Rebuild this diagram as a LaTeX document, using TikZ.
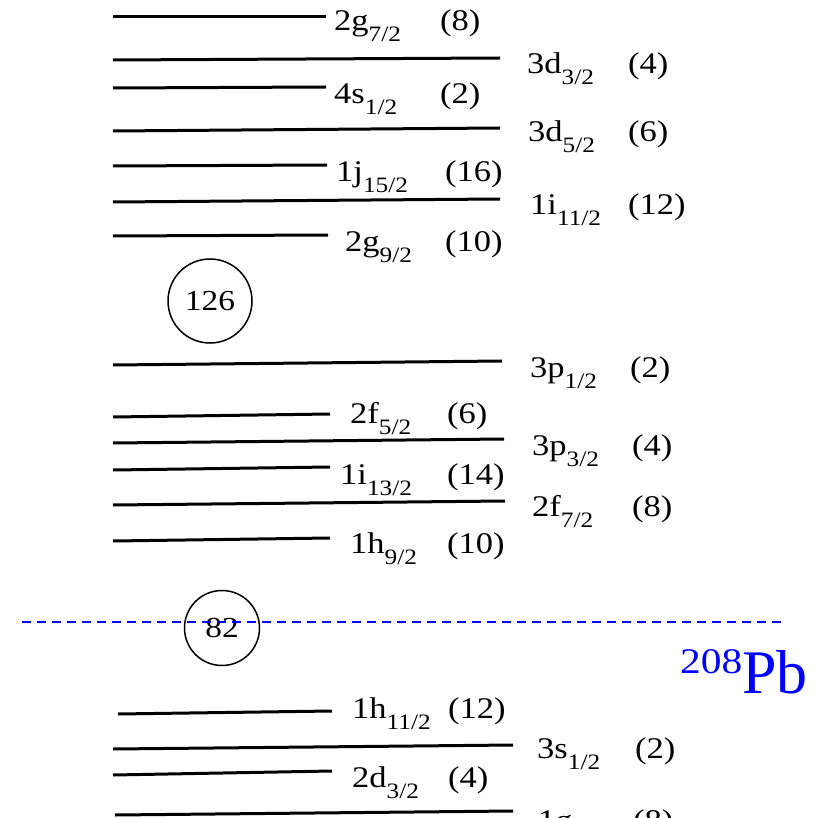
\documentclass[tikz,border=0pt]{standalone}
\usepackage{fontspec}
\setmainfont{Liberation Serif}
\newfontfamily\lvlfont{Liberation Serif}[FakeStretch=1.15]
\usetikzlibrary{positioning}
\newcommand{\lsub}[1]{\raisebox{-11pt}{\fontsize{22}{22}\selectfont #1}}

\begin{document}
\begin{tikzpicture}[
        x=1pt, y=-1pt,
        level/.style={line width=3pt},
        orb/.style={anchor=base west, inner sep=0pt, font=\lvlfont\fontsize{30}{32}\selectfont},
        magic/.style={draw, circle, line width=1.5pt, inner sep=0pt, font=\lvlfont\fontsize{29}{32}\selectfont},
        gap/.style={draw=blue, line width=1.6pt, dash pattern=on 9pt off 6pt}
    ]
        \useasboundingbox (0,0) rectangle (819,818);
        \clip (0,0) rectangle (819,818);

        % Levels above N=126
        \draw [level] (113,17) -- (326,17);
        \node (g72) [orb] at (334,31) {2g\lsub{7/2}};
        \node (g72n) [orb] at (440,31) {(8)};
        \draw [level] (113,60) -- (500,58);
        \node (d32) [orb] at (527,74) {3d\lsub{3/2}};
        \node (d32n) [orb] at (628,74) {(4)};
        \draw [level] (113,88) -- (326,87);
        \node (s12) [orb] at (334,104) {4s\lsub{1/2}};
        \node (s12n) [orb] at (440,104) {(2)};
        \draw [level] (113,131) -- (500,128);
        \node (d52) [orb] at (528,142) {3d\lsub{5/2}};
        \node (d52n) [orb] at (628,142) {(6)};
        \draw [level] (113,166) -- (327,165);
        \node (j152) [orb] at (336,182) {1j\lsub{15/2}};
        \node (j152n) [orb] at (445,182) {(16)};
        \draw [level] (113,202) -- (500,199);
        \node (i112) [orb] at (530,215) {1i\lsub{11/2}};
        \node (i112n) [orb] at (628,215) {(12)};
        \draw [level] (113,236) -- (328,235);
        \node (g92) [orb] at (345,252) {2g\lsub{9/2}};
        \node (g92n) [orb] at (445,252) {(10)};

        % Shell gap 126
        \node (n126) [magic, minimum size=84pt] at (210,301) {126};

        % Levels between 82 and 126
        \draw [level] (113,365) -- (502,361);
        \node (p12) [orb] at (530,377) {3p\lsub{1/2}};
        \node (p12n) [orb] at (630,377) {(2)};
        \draw [level] (113,417) -- (330,414);
        \node (f52) [orb] at (350,423) {2f\lsub{5/2}};
        \node (f52n) [orb] at (447,423) {(6)};
        \draw [level] (113,443) -- (504,439);
        \node (p32) [orb] at (532,455) {3p\lsub{3/2}};
        \node (p32n) [orb] at (632,455) {(4)};
        \draw [level] (113,470) -- (330,467);
        \node (i132) [orb] at (340,484) {1i\lsub{13/2}};
        \node (i132n) [orb] at (447,484) {(14)};
        \draw [level] (113,505) -- (505,501);
        \node (f72) [orb] at (532,516) {2f\lsub{7/2}};
        \node (f72n) [orb] at (632,516) {(8)};
        \draw [level] (113,541) -- (330,538);
        \node (h92) [orb] at (350,553) {1h\lsub{9/2}};
        \node (h92n) [orb] at (447,553) {(10)};

        % Shell gap 82 and the dividing line
        \node (n82) [magic, minimum size=75pt] at (222,628) {82};
        \coordinate (gapL) at (22,622);
        \coordinate (gapR) at (785,622);
        \draw [gap] (gapL) -- (gapR);
        \node (pb) [anchor=base east, inner sep=0pt, text=blue, font=\fontsize{62}{62}\selectfont] at (808,693) {\raisebox{20pt}{\lvlfont\fontsize{36}{36}\selectfont 208}Pb};

        % Levels below 82
        \draw [level] (118,714) -- (332,711);
        \node (h112) [orb] at (352,718) {1h\lsub{11/2}};
        \node (h112n) [orb] at (448,718) {(12)};
        \draw [level] (113,749) -- (513,745);
        \node (s312) [orb] at (537,758) {3s\lsub{1/2}};
        \node (s312n) [orb] at (635,758) {(2)};
        \draw [level] (113,775) -- (332,771);
        \node (d232) [orb] at (352,787) {2d\lsub{3/2}};
        \node (d232n) [orb] at (448,787) {(4)};
        \draw [level] (115,815) -- (513,811);
        \node (g712) [orb] at (538,830) {1g\lsub{7/2}};
        \node (g712n) [orb] at (633,830) {(8)};

    \end{tikzpicture}
\end{document}
